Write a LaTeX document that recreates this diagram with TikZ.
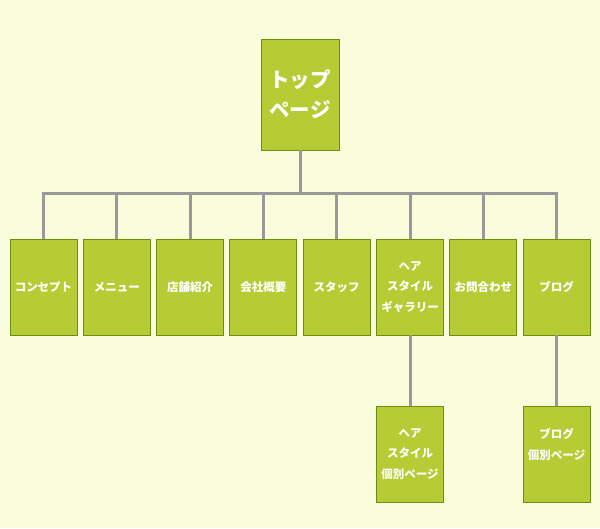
\documentclass[tikz,border=0pt]{standalone}
\usepackage{fontspec}
\setmainfont{Noto Sans CJK JP}
\usetikzlibrary{positioning}
\definecolor{bgyellow}{HTML}{FAFDDC}
\definecolor{leaf}{HTML}{B6CC34}
\definecolor{leafedge}{HTML}{6E8E10}
\definecolor{wire}{HTML}{999999}

\begin{document}
\begin{tikzpicture}[x=1pt,y=-1pt,
  page/.style={draw=leafedge,fill=leaf,line width=1pt,text=white,
    font=\bfseries\fontsize{11.5}{20.5}\selectfont,align=center,inner sep=0pt,
    outer sep=0pt,minimum width=67pt,minimum height=96pt},
  link/.style={draw=wire,line width=3pt},
  node distance=6.3pt]
\fill[bgyellow] (0,0) rectangle (600,528);
\useasboundingbox (0,0) rectangle (600,528);

\node[page,minimum width=78pt,minimum height=111pt,
  font=\bfseries\fontsize{20.5}{30}\selectfont](top) at (300,94.5){トップ\\ページ};
\node[page](concept) at (43.5,287){コンセプト};
\node[page,right=of concept](menu){メニュー};
\node[page,right=of menu](shop){店舗紹介};
\node[page,right=of shop](company){会社概要};
\node[page,right=of company](staff){スタッフ};
\node[page,right=of staff](gallery){ヘア\\スタイル\\ギャラリー};
\node[page,right=of gallery](contact){お問合わせ};
\node[page,right=of contact](blog){ブログ};
\node[page,below=71pt of gallery](galleryitem){ヘア\\スタイル\\個別ページ};
\node[page,below=71pt of blog](blogitem){ブログ\\個別ページ\\\mbox{}};

\coordinate (hub) at (300,193);
\draw[link] (top) -- (hub);
\foreach \c in {concept,menu,shop,company,staff,gallery,contact,blog}
  \draw[link] (hub) -| (\c);
\draw[link] (gallery) -- (galleryitem);
\draw[link] (blog) -- (blogitem);
\end{tikzpicture}
\end{document}
